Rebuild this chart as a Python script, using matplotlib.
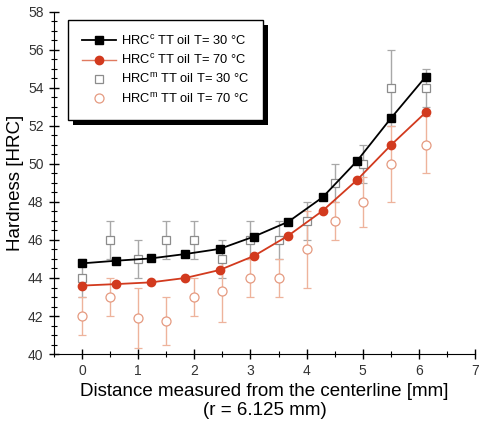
import matplotlib
matplotlib.use("Agg")
import matplotlib.pyplot as plt
from matplotlib.lines import Line2D
from matplotlib.patches import Rectangle
from matplotlib.ticker import MultipleLocator

plt.rcParams['font.family'] = ['Liberation Sans', 'DejaVu Sans']
plt.rcParams['mathtext.fontset'] = 'custom'
plt.rcParams['mathtext.rm'] = 'Liberation Sans'

# computed hardness (model), every r/10
x_calc = [0, 0.6125, 1.225, 1.8375, 2.45, 3.0625, 3.675, 4.2875, 4.9, 5.5125, 6.125]
hrc_calc_30 = [44.77, 44.91, 45.03, 45.26, 45.53, 46.18, 46.96, 48.25, 50.16, 52.44, 54.6]
hrc_calc_70 = [43.6, 43.68, 43.77, 44.0, 44.42, 45.16, 46.23, 47.54, 49.16, 51.02, 52.72]

# measured hardness
x_meas = [0, 0.5, 1.0, 1.5, 2.0, 2.5, 3.0, 3.5, 4.0, 4.5, 5.0, 5.5, 6.125]
hrc_meas_30 = [44, 46, 45, 46, 46, 45, 46, 46, 47, 49, 50, 54, 54]
err_meas_30 = [1, 1, 1, 1, 1, 1, 1, 1, 1, 1, 1, 2, 1]
hrc_meas_70 = [42, 43, 41.9, 41.75, 43, 43.3, 44, 44, 45.5, 47, 48, 50, 51]
err_meas_70 = [1, 1, 1.6, 1.25, 1, 1.6, 1, 1, 2, 1, 1.3, 2, 1.5]

labels = [r'HRC$^\mathrm{c}$ TT oil T= 30 °C', r'HRC$^\mathrm{c}$ TT oil T= 70 °C',
          r'HRC$^\mathrm{m}$ TT oil T= 30 °C', r'HRC$^\mathrm{m}$ TT oil T= 70 °C']

fig = plt.figure(figsize=(4.8, 4.25), dpi=100)
ax = fig.add_axes([0.1125, 0.167, 0.877, 0.805])

grey = '#a8a8a8'
lorange = '#eeb39c'
red = '#d23a1e'
sq_edge = '#8c8c8c'
ci_edge = '#e59a80'

ax.errorbar(x_meas, hrc_meas_30, yerr=err_meas_30, fmt='s', ms=5.5, mfc='white',
            mec=sq_edge, mew=0.9, ecolor=grey, elinewidth=1, capsize=3,
            capthick=1, zorder=2)
ax.errorbar(x_meas, hrc_meas_70, yerr=err_meas_70, fmt='o', ms=6.5, mfc='white',
            mec=ci_edge, mew=0.9, ecolor=lorange, elinewidth=1, capsize=3,
            capthick=1, zorder=2)
l30, = ax.plot(x_calc, hrc_calc_30, '-s', color='black', ms=5.5, lw=1.3, zorder=4)
l70, = ax.plot(x_calc, hrc_calc_70, '-o', color=red, ms=6, lw=1.3, zorder=3)

ax.set_xlim(-0.5, 7)
ax.set_ylim(40, 58)
ax.xaxis.set_major_locator(MultipleLocator(1))
ax.xaxis.set_minor_locator(MultipleLocator(0.5))
ax.yaxis.set_major_locator(MultipleLocator(2))
ax.yaxis.set_minor_locator(MultipleLocator(0.5))
ax.tick_params(which='major', direction='inout', length=7, width=1,
               labelsize=10, labelcolor='#333333', pad=4)
ax.tick_params(which='minor', direction='inout', length=4, width=0.8)
ax.spines['top'].set_visible(False)
ax.spines['right'].set_visible(False)

ax.set_xlabel('Distance measured from the centerline [mm]\n(r = 6.125 mm)',
              fontsize=13.5, labelpad=3, linespacing=1.15)
ax.set_ylabel('Hardness [HRC]', fontsize=13.5, labelpad=3)

h_m30 = Line2D([], [], ls='none', marker='s', ms=5.5, mfc='white', mec=sq_edge, mew=0.9)
h_m70 = Line2D([], [], ls='none', marker='o', ms=6.5, mfc='white', mec=ci_edge, mew=0.9)
h_c70 = Line2D([], [], ls='-', color='#e07a60', lw=1, marker='o', ms=6,
               mfc=red, mec=red)
leg = ax.legend([l30, h_c70, h_m30, h_m70], labels,
                loc='upper left', bbox_to_anchor=(0.033, 0.977), borderaxespad=0,
                fontsize=9.3, frameon=True, fancybox=False, edgecolor='black',
                framealpha=1, handlelength=2.6, labelspacing=0.4,
                borderpad=1.1, handletextpad=0.4)
leg.get_frame().set_linewidth(1)
leg.set_zorder(10)

# solid black drop shadow behind the legend box
fig.canvas.draw()
bb = leg.get_window_extent().transformed(fig.transFigure.inverted())
dx, dy = 5 / 480, 5 / 425
ax.add_patch(Rectangle((bb.x0 + dx, bb.y0 - dy), bb.width, bb.height,
                       transform=fig.transFigure, facecolor='black',
                       edgecolor='none', zorder=9, clip_on=False))

fig.savefig('out.png', dpi=100)
